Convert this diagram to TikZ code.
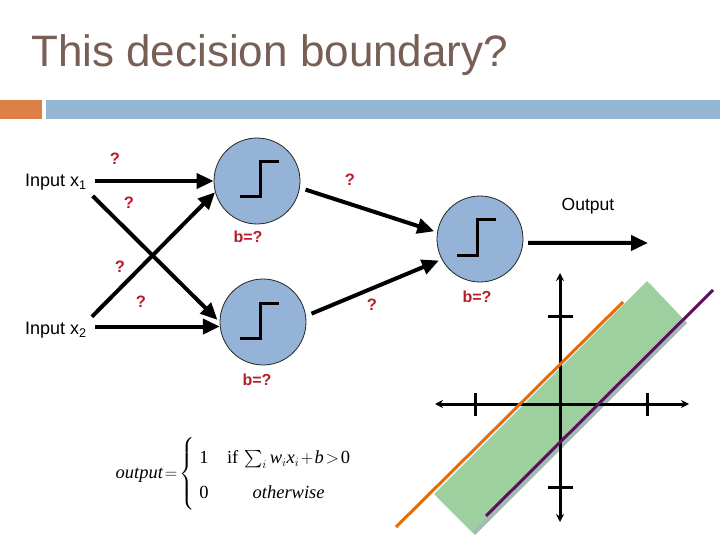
\documentclass[tikz,border=0pt]{standalone}
\usepackage{fontspec}
\usepackage{amsmath}
\setmainfont{Liberation Sans}
\newfontfamily\serifface{Liberation Serif}
\usetikzlibrary{arrows.meta, calc}
\definecolor{titlegray}{HTML}{775F55}
\definecolor{barorange}{HTML}{DD8047}
\definecolor{barblue}{HTML}{94B6D2}
\definecolor{neuronblue}{HTML}{95B3D7}
\definecolor{weightred}{HTML}{B81C26}
\definecolor{bandgreen}{HTML}{9DCF9F}
\definecolor{bandshadow}{HTML}{A3B9B4}
\definecolor{lineorange}{HTML}{E46C0A}
\definecolor{linepurple}{HTML}{5E1060}
\newcommand{\itx}[1]{\text{\itshape #1}}

\begin{document}
\begin{tikzpicture}[x=1pt, y=-1pt,
    title/.style={font=\fontsize{44}{50}\selectfont, text=titlegray, inner sep=0pt},
    neuron/.style={circle, draw=black!85, line width=0.8pt, fill=neuronblue, minimum size=86pt, inner sep=0pt},
    inlabel/.style={font=\fontsize{18}{22}\selectfont, anchor=west, inner sep=0pt},
    weight/.style={font=\fontsize{16.5}{20}\selectfont\bfseries, text=weightred},
    bias/.style={font=\fontsize{16}{20}\selectfont\bfseries, text=weightred},
    formula/.style={font=\serifface\fontsize{18.5}{23}\selectfont, inner sep=0pt},
    arrow/.style={-{Triangle[length=17pt, width=15pt]}, line width=4pt, black},
    stepfn/.style={line width=3pt, black},
    axis/.style={{Stealth[length=8pt, width=8pt]}-{Stealth[length=8pt, width=8pt]}, line width=3pt, black},
    tick/.style={line width=3pt, black},
    boundary/.style={line width=3pt},
]
    \useasboundingbox (0,0) rectangle (720,540);

    \node[title, anchor=base west] (title) at (31,67) {This decision boundary?};
    \fill[barorange] (0,100) rectangle (42,119);
    \fill[barblue] (46,100) rectangle (720,119);

    \node[inlabel] (in1) at (25,182) {Input x\textsubscript{1}};
    \node[inlabel] (in2) at (25,330) {Input x\textsubscript{2}};

    \node[neuron] (n1) at (257,181) {};
    \node[neuron] (n2) at (263,322) {};
    \node[neuron] (n3) at (480,239) {};
    \coordinate (out) at (648,243);

    \foreach \n/\dx in {n1/3, n2/-3, n3/-3}
        \draw[stepfn] ($(\n)+(\dx-20,16)$) -- ($(\n)+(\dx,16)$) -- ($(\n)+(\dx,-19)$) -- ($(\n)+(\dx+19,-19)$);

    \draw[arrow, shorten <=8pt] (in1.east |- n1.west) -- (n1.west);
    \draw[arrow, shorten <=8pt, shorten >=3pt] (in1.south east) -- (n2.west);
    \draw[arrow, shorten <=7pt] (in2.north east) -- (n1.195);
    \draw[arrow, shorten <=8pt] (in2.east |- n2.186) -- (n2.186);
    \draw[arrow, shorten <=6pt, shorten >=3pt] (n1.-9) -- (n3.171);
    \draw[arrow, shorten <=6pt, shorten >=3pt] (n2.8) -- (n3.208);
    \draw[arrow, shorten <=5pt] (n3.-5) -- (out);

    \node[weight] (w11) at (115,159) {?};
    \node[weight] (w12) at (129,203) {?};
    \node[weight] (w21) at (120,267) {?};
    \node[weight] (w22) at (141,302) {?};
    \node[weight] (w13) at (350,180) {?};
    \node[weight] (w23) at (372,305) {?};
    \node[bias] (b1) at (248,237) {b=?};
    \node[bias] (b2) at (257,380) {b=?};
    \node[bias] (b3) at (477,297) {b=?};
    \node[font=\fontsize{17.5}{21}\selectfont] (outlabel) at (588,206) {Output};

    \node[formula] (rule) at (236,474)
        {\thickmuskip=2mu\medmuskip=1.5mu$\itx{output}=\left\{\renewcommand{\arraystretch}{1.5}\begin{array}{@{\;\,}c@{\quad}c}
            \text{1} & \text{if}\,\sum_i \itx{w}_i\itx{x}_i + \itx{b} > \text{0}\\
            \text{0} & \itx{otherwise}\end{array}\right.$};

    \fill[bandshadow] (650,284) -- (687,323) -- (475,535) -- (437,497) -- cycle;
    \fill[bandgreen] (647,281) -- (684,320) -- (472,532) -- (434,494) -- cycle;
    \draw[axis] (435,404) -- (689,404);
    \draw[axis] (560,273) -- (560,522);
    \foreach \x in {475,647}
        \draw[tick] (\x,393) -- (\x,416);
    \foreach \y in {316,487}
        \draw[tick] (548,\y) -- (573,\y);
    \draw[boundary, lineorange] (396,527) -- (623,302);
    \draw[boundary, linepurple] (486,516) -- (713,290);
\end{tikzpicture}
\end{document}
